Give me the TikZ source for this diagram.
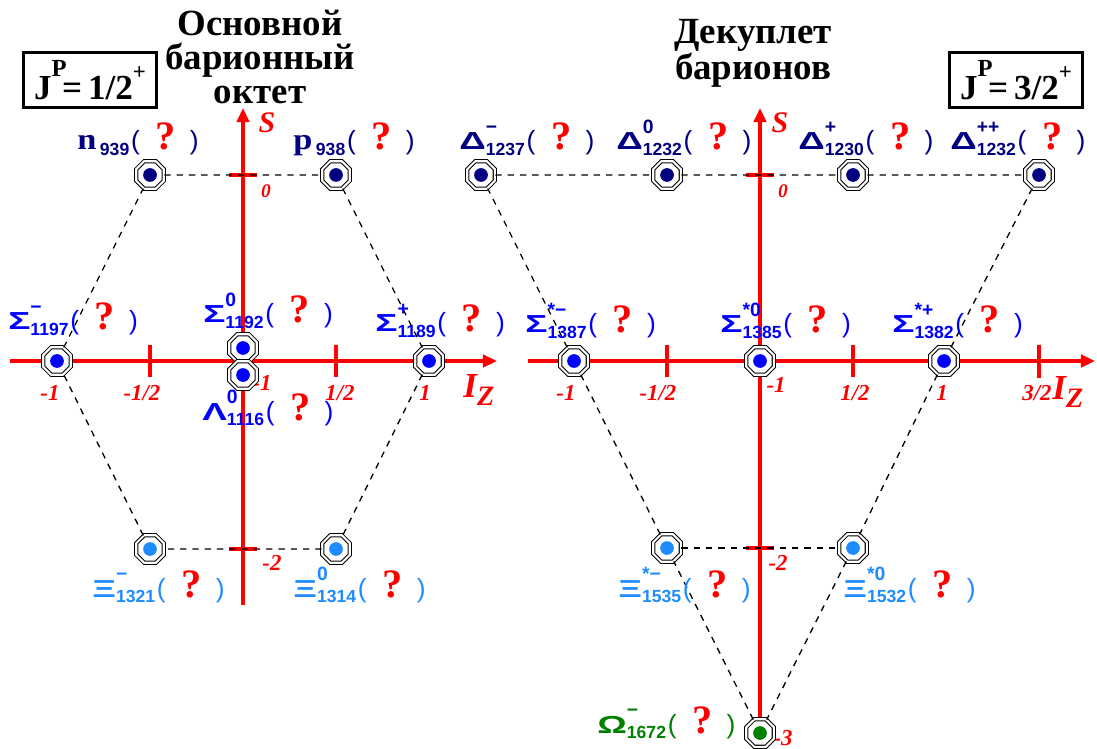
\documentclass[tikz,border=0pt]{standalone}
\usepackage{fontspec}
\usepackage{graphicx}
\setmainfont{Liberation Serif}
\newfontfamily\grk{Liberation Sans}
\newfontfamily\parf{Liberation Sans}
\usetikzlibrary{shapes.geometric,arrows.meta}
\definecolor{navy}{RGB}{0,0,128}
\definecolor{skyb}{RGB}{30,140,255}
\definecolor{dgreen}{RGB}{0,128,0}
\definecolor{axred}{RGB}{255,0,0}

% particle label: colour, letter, upper index, mass
\newcommand{\hadron}[4]{{\color{#1}\grk\bfseries\fontsize{14}{14}\selectfont\scalebox{1.5}[1]{#2}%
\makebox[0pt][l]{\raisebox{9.5pt}{\fontsize{11}{11}\selectfont #3}}%
\raisebox{-3pt}{\fontsize{10}{10}\selectfont #4}\hspace{1pt}%
{\parf\mdseries\fontsize{15}{15}\selectfont(}\hspace{9pt}%
{\color{red}\rmfamily\bfseries\fontsize{23}{23}\selectfont ?}\hspace{8pt}%
{\parf\mdseries\fontsize{15}{15}\selectfont)}}}
% nucleon label: colour, letter, mass
\newcommand{\nucl}[3]{{\color{#1}\bfseries\fontsize{17}{17}\selectfont\scalebox{1.15}[1]{#2}\hspace{2pt}%
\raisebox{-3pt}{\grk\fontsize{10}{10}\selectfont #3}\hspace{1pt}%
{\parf\mdseries\fontsize{15}{15}\selectfont(}\hspace{9pt}%
{\color{red}\fontsize{23}{23}\selectfont ?}\hspace{8pt}%
{\parf\mdseries\fontsize{15}{15}\selectfont)}}}
% spin-parity box text
\newcommand{\jp}[1]{J\makebox[0pt][l]{\raisebox{13pt}{\fontsize{14}{14}\selectfont P}}\hspace{6pt}=\,#1%
\raisebox{11pt}{\fontsize{13}{13}\selectfont +}}

\tikzset{
  hadr/.style={regular polygon, regular polygon sides=8, minimum size=17pt, inner sep=0pt,
    draw=black, line width=0.6pt, double=white, double distance=1.2pt, fill=white,
    path picture={\fill[#1] (path picture bounding box.center) circle (3.9pt);}},
  ax/.style={axred, line width=2.4pt},
  link/.style={black, line width=0.75pt, dash pattern=on 3.6pt off 3.4pt},
  lab/.style={anchor=base west, inner sep=0pt},
  nb/.style={axred, font=\bfseries\itshape\fontsize{13}{13}\selectfont, inner sep=0pt, anchor=base},
  ttl/.style={anchor=base, align=center, inner sep=0pt, font=\bfseries\fontsize{21}{19.5}\selectfont},
  jbox/.style={draw, line width=1.6pt, minimum width=2.66cm, minimum height=1.1cm, inner sep=0pt,
    font=\bfseries\fontsize{20}{20}\selectfont},
}

\begin{document}
\begin{tikzpicture}[x=0.02cm,y=-0.02cm]
\useasboundingbox (0,0) rectangle (1097,749);

% titles (anchored on their last line)
\node[ttl] (toct) at (260,104) {Основной\\барионный\\октет};
\node[ttl] (tdec) at (753,80) {Декуплет\\барионов};
\node[jbox] (jl) at (90,80) {\jp{1/2}};
\node[jbox] (jr) at (1016,80) {\jp{3/2}};

% octet axes
\draw[ax,-{Triangle[length=8pt,width=7pt]}] (243,605) -- (243,108);
\draw[ax,-{Triangle[length=8pt,width=7pt]}] (10,361) -- (497,361);
\draw[ax] (229,175) -- (257,175);
\draw[ax] (229,549) -- (257,549);
\draw[ax] (150,345) -- (150,377);
\draw[ax] (336,345) -- (336,377);

% decuplet axes
\draw[ax,-{Triangle[length=8pt,width=7pt]}] (760,749) -- (760,108);
\draw[ax,-{Triangle[length=8pt,width=7pt]}] (528,361) -- (1095,361);
\draw[ax] (746,175) -- (774,175);
\draw[ax] (746,548) -- (774,548);
\draw[ax] (667,345) -- (667,377);
\draw[ax] (853,345) -- (853,377);
\draw[ax] (1039,345) -- (1039,378);

% axis numbers
\node[axred,font=\bfseries\itshape\fontsize{17}{17}\selectfont,anchor=base] (sl) at (267,133) {S};
\node[axred,font=\bfseries\itshape\fontsize{17}{17}\selectfont,anchor=base] (sr) at (780,133) {S};
\node[axred,font=\bfseries\itshape\fontsize{20}{20}\selectfont,anchor=base west,inner sep=0pt] (izl) at (463,397) {I\raisebox{-5pt}{\fontsize{16}{16}\selectfont Z}};
\node[axred,font=\bfseries\itshape\fontsize{20}{20}\selectfont,anchor=base west,inner sep=0pt] (izr) at (1052,399) {I\raisebox{-5pt}{\fontsize{16}{16}\selectfont Z}};
\node[nb,font=\bfseries\itshape\fontsize{11}{11}\selectfont] (ol) at (266,198) {0};
\node[nb,font=\bfseries\itshape\fontsize{11}{11}\selectfont] (or) at (783,198) {0};
\node[nb] (sl1) at (262,390) {-1};
\node[nb] (sl2) at (272,570) {-2};
\node[nb] (sr1) at (776,392) {-1};
\node[nb] (sr2) at (778,570) {-2};
\node[nb] (sr3) at (783,745) {-3};
\node[nb] (il1) at (50,400) {-1};
\node[nb] (il2) at (142,400) {-1/2};
\node[nb] (il3) at (340,400) {1/2};
\node[nb] (il4) at (425,400) {1};
\node[nb] (ir1) at (566,400) {-1};
\node[nb] (ir2) at (658,400) {-1/2};
\node[nb] (ir3) at (855,400) {1/2};
\node[nb] (ir4) at (942,400) {1};
\node[nb] (ir5) at (1037,400) {3/2};

% octet particles
\node[hadr=navy] (n) at (150,175) {};
\node[hadr=navy] (p) at (336,175) {};
\node[hadr=blue] (sm) at (57,361) {};
\node[hadr=blue] (s0) at (243,348) {};
\node[hadr=blue] (l0) at (243,375) {};
\node[hadr=blue] (sp) at (429,361) {};
\node[hadr=skyb] (xm) at (150,549) {};
\node[hadr=skyb] (x0) at (336,549) {};

% decuplet particles
\node[hadr=navy] (dm) at (481,175) {};
\node[hadr=navy] (d0) at (667,175) {};
\node[hadr=navy] (dp) at (853,175) {};
\node[hadr=navy] (dpp) at (1039,175) {};
\node[hadr=blue] (sdm) at (574,361) {};
\node[hadr=blue] (sd0) at (760,361) {};
\node[hadr=blue] (sdp) at (944,361) {};
\node[hadr=skyb] (xdm) at (667,548) {};
\node[hadr=skyb] (xd0) at (853,548) {};
\node[hadr=dgreen] (om) at (760,733) {};

% multiplet outlines
\draw[link] (n) -- (p) -- (sp) -- (x0) -- (xm) -- (sm) -- (n);
\draw[link] (dm) -- (d0) -- (dp) -- (dpp) -- (sdp) -- (xd0) -- (om) -- (xdm) -- (sdm) -- (dm);
\draw[link] (xdm) -- (xd0);

% octet labels
\node[lab] (nl) at (77,150) {\nucl{navy}{n}{939}};
\node[lab] (pl) at (293,150) {\nucl{navy}{p}{938}};
\node[lab] (sml) at (8,330) {\hadron{blue}{Σ}{−}{1197}};
\node[lab] (s0l) at (203,323) {\hadron{blue}{Σ}{0}{1192}};
\node[lab] (spl) at (375,332) {\hadron{blue}{Σ}{+}{1189}};
\node[lab] (l0l) at (202,420) {\hadron{blue}{Λ}{0}{1116}};
\node[lab] (xml) at (92,597) {\hadron{skyb}{Ξ}{−}{1321}};
\node[lab] (x0l) at (293,597) {\hadron{skyb}{Ξ}{0}{1314}};

% decuplet labels
\node[lab] (dml) at (459,150) {\hadron{navy}{Δ}{−}{1237}};
\node[lab] (d0l) at (616,150) {\hadron{navy}{Δ}{0}{1232}};
\node[lab] (dpl) at (798,150) {\hadron{navy}{Δ}{+}{1230}};
\node[lab] (dppl) at (950,150) {\hadron{navy}{Δ}{++}{1232}};
\node[lab] (sdml) at (525,333) {\hadron{blue}{Σ}{*−}{1387}};
\node[lab] (sd0l) at (720,333) {\hadron{blue}{Σ}{*0}{1385}};
\node[lab] (sdpl) at (892,333) {\hadron{blue}{Σ}{*+}{1382}};
\node[lab] (xdml) at (618,597) {\hadron{skyb}{Ξ}{*−}{1535}};
\node[lab] (xd0l) at (843,597) {\hadron{skyb}{Ξ}{*0}{1532}};
\node[lab] (oml) at (597,733) {\hadron{dgreen}{Ω}{−}{1672}};
\end{tikzpicture}
\end{document}
